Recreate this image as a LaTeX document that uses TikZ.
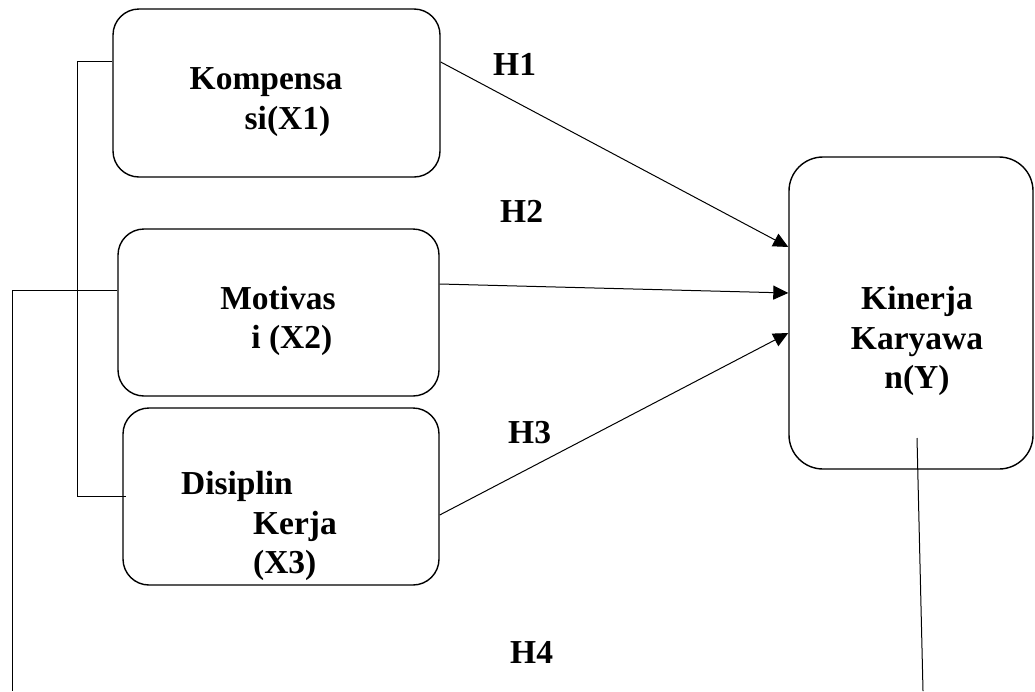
\documentclass[tikz,border=0pt]{standalone}
\usepackage{fontspec}
\setmainfont{Liberation Serif}
\usetikzlibrary{arrows.meta}
\tikzset{
    varbox/.style={draw,line width=1.4pt,rounded corners=26pt,inner sep=0pt},
    vartext/.style={inner sep=0pt,font=\fontsize{33.5}{39.5}\selectfont\bfseries},
    hyp/.style={inner sep=0pt,anchor=base west,font=\fontsize{33.5}{39.5}\selectfont\bfseries},
    link/.style={line width=1pt},
    effect/.style={line width=1pt,-{Triangle[length=15pt,width=14pt]}}
}
\begin{document}
\begin{tikzpicture}[x=1pt,y=-1pt]
    \useasboundingbox (0,0) rectangle (1035,691);
    % variabel bebas
    \node[varbox,minimum width=327pt,minimum height=168pt] (komp) at (276.5,93) {};
    \node[varbox,minimum width=321pt,minimum height=167pt] (moti) at (278.5,312.5) {};
    \node[varbox,minimum width=316pt,minimum height=177pt] (disc) at (281,496.5) {};
    \node[varbox,rounded corners=34pt,minimum width=244pt,minimum height=312pt] (kin) at (911,313) {};
    \node[vartext,align=left] (kompT) at (266,102) {Kompensa\\\hspace*{55pt}si(X1)};
    \node[vartext,align=left] (motiT) at (278,321) {Motivas\\\hspace*{31pt}i (X2)};
    \node[vartext,align=left] (discT) at (259,526) {Disiplin\\\hspace*{72pt}Kerja\\\hspace*{72pt}(X3)};
    \node[vartext,align=center] (kinT) at (917,341) {Kinerja\\Karyawa\\n(Y)};
    % hipotesis
    \node[hyp] (h1) at (493,75) {H1};
    \node[hyp] (h2) at (500,222) {H2};
    \node[hyp] (h3) at (508,443) {H3};
    \node[hyp] (h4) at (510,663) {H4};
    \draw[effect] ([yshift=31pt]komp.east) -- ([yshift=66pt]kin.west);
    \draw[effect] ([yshift=28.5pt]moti.east) -- ([yshift=20pt]kin.west);
    \draw[effect] ([yshift=-18.5pt]disc.east) -- ([yshift=-20pt]kin.west);
    % garis simultan
    \coordinate (botL) at (12,691);
    \coordinate (botR) at (923,691);
    \draw[link] ([yshift=32pt]komp.west) -- ++(-35,0) |- ([xshift=4pt]disc.west);
    \draw[link] ([yshift=22pt]moti.west) -| (botL);
    \draw[link] ([xshift=6pt,yshift=-125pt]kin.center) -- (botR);
\end{tikzpicture}
\end{document}
